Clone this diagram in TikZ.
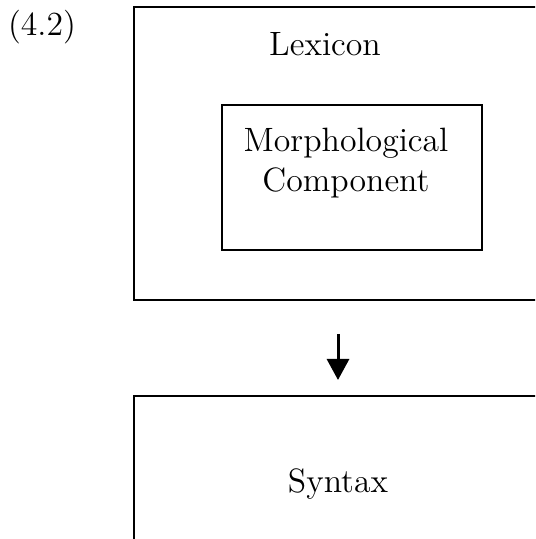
\documentclass[tikz,border=0pt]{standalone}
\usetikzlibrary{arrows.meta}
\begin{document}
\begin{tikzpicture}[x=0.4pt,y=0.4pt,
  box/.style={draw,line width=0.8pt,inner sep=0pt},
  lab/.style={font=\fontsize{13.5}{16}\selectfont,inner sep=0pt}]
\useasboundingbox(0,0)rectangle(535,539);
\clip(0,0)rectangle(535,539);
\node[lab,anchor=base]at(42,503)(num){(4.2)};
% the boxes
\node[box,minimum width=408*0.4pt,minimum height=293*0.4pt]at(338,385.5)(lex){};
\node[box,minimum width=260*0.4pt,minimum height=145*0.4pt]at(352,361.5)(morph){};
\node[box,minimum width=408*0.4pt,minimum height=170*0.4pt]at(338,58)(syn){};
\node[lab,anchor=base]at(325,483)(lextext){Lexicon};
\node[lab,align=center]at(346,375.5)(morphtext){Morphological\\Component};
\node[lab,anchor=base]at(338,46)(syntext){Syntax};
\draw[line width=1.2pt,-{Triangle[width=8.8pt,length=8.4pt]},shorten <=33*0.4pt,shorten >=15*0.4pt]
(lex.south)--(syn.north);
\end{tikzpicture}
\end{document}
